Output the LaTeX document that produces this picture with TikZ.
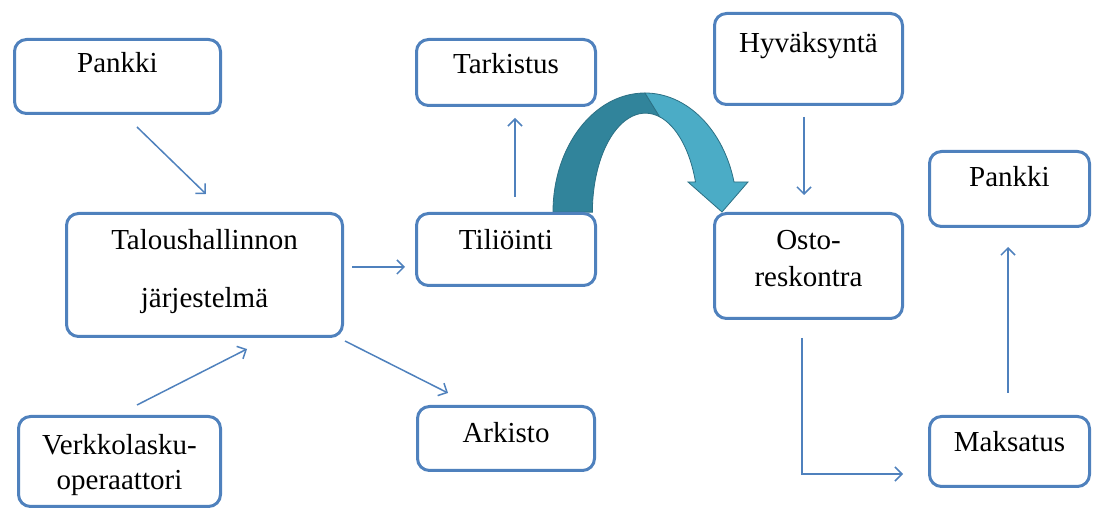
\documentclass[tikz,border=0pt]{standalone}
\usepackage{fontspec}
\setmainfont{Liberation Serif}
\usetikzlibrary{arrows.meta}
\definecolor{boxblue}{RGB}{79,129,189}
\definecolor{tealdark}{RGB}{49,132,155}
\definecolor{teallight}{RGB}{75,172,198}
\definecolor{tealedge}{RGB}{44,112,132}
\begin{document}
\begin{tikzpicture}[x=0.5pt,y=-0.5pt,
  box/.style={draw=boxblue,line width=1.5pt,rounded corners=6pt,fill=white,inner sep=0pt},
  lbl/.style={font=\fontsize{14.5}{17}\selectfont,inner sep=0pt,anchor=base},
  flow/.style={draw=boxblue,line width=0.75pt,-{Straight Barb[length=3.5pt,width=7pt]}}]
\useasboundingbox (0,0) rectangle (1093,512);

% curved arrow
\fill[tealdark,draw=tealedge,line width=0.4pt]
  (553,212) arc[start angle=180,end angle=270,x radius=92,y radius=119]
  -- (660,117) arc[start angle=286,end angle=180,x radius=53,y radius=99] -- cycle;
\fill[teallight,draw=tealedge,line width=0.4pt]
  (645,93) arc[start angle=270,end angle=345.4,x radius=92,y radius=119]
  -- (748,182) -- (722,212) -- (688,182) -- (695.5,182)
  arc[start angle=342.4,end angle=286,x radius=53,y radius=99] -- cycle;

% boxes
\node[box,minimum width=103pt,minimum height=37pt] (pankA) at (117.5,76.5) {};
\node[box,minimum width=138pt,minimum height=61.5pt] (talous) at (204.5,275) {};
\node[box,minimum width=101pt,minimum height=45pt] (verkko) at (119.5,461.5) {};
\node[box,minimum width=89.5pt,minimum height=33pt] (tark) at (506,72.5) {};
\node[box,minimum width=89.5pt,minimum height=36pt] (tili) at (506,249.5) {};
\node[box,minimum width=88.5pt,minimum height=32pt] (ark) at (506,438.5) {};
\node[box,minimum width=94pt,minimum height=45.5pt] (hyv) at (808.5,59) {};
\node[box,minimum width=94pt,minimum height=52.5pt] (osto) at (808.5,266) {};
\node[box,minimum width=80pt,minimum height=37.5pt] (pankB) at (1009.5,189) {};
\node[box,minimum width=80pt,minimum height=35pt] (maks) at (1009.5,451.5) {};

% labels
\node[lbl] (pankAt) at (117.5,73) {Pankki};
\node[lbl] (talousa) at (204.5,250) {Taloushallinnon};
\node[lbl] (talousb) at (204.5,308) {järjestelmä};
\node[lbl] (verkkoa) at (119.5,455) {Verkkolasku-};
\node[lbl] (verkkob) at (119.5,490) {operaattori};
\node[lbl] (tarkt) at (506,74) {Tarkistus};
\node[lbl] (tilit) at (506,250) {Tiliöinti};
\node[lbl] (arkt) at (506,443) {Arkisto};
\node[lbl] (hyvt) at (808.5,53) {Hyväksyntä};
\node[lbl] (ostoa) at (808.5,250) {Osto-};
\node[lbl] (ostob) at (808.5,287) {reskontra};
\node[lbl] (pankBt) at (1009.5,187) {Pankki};
\node[lbl] (makst) at (1009.5,452) {Maksatus};

% connector end points
\coordinate (a1) at (137,127);  \coordinate (a2) at (206,194);
\coordinate (b1) at (137,405);  \coordinate (b2) at (247,349);
\coordinate (c1) at (352,267);  \coordinate (c2) at (405,267);
\coordinate (d1) at (345,341);  \coordinate (d2) at (448,393);
\coordinate (e1) at (515,197);  \coordinate (e2) at (515,118);
\coordinate (f1) at (804,117);  \coordinate (f2) at (804,195);
\coordinate (g1) at (802,338);  \coordinate (g2) at (802,474); \coordinate (g3) at (903,474);
\coordinate (h1) at (1008,393); \coordinate (h2) at (1008,247);

\draw[flow] (a1) -- (a2);
\draw[flow] (b1) -- (b2);
\draw[flow] (c1) -- (c2);
\draw[flow] (d1) -- (d2);
\draw[flow] (e1) -- (e2);
\draw[flow] (f1) -- (f2);
\draw[flow] (g1) -- (g2) -- (g3);
\draw[flow] (h1) -- (h2);
\end{tikzpicture}
\end{document}
